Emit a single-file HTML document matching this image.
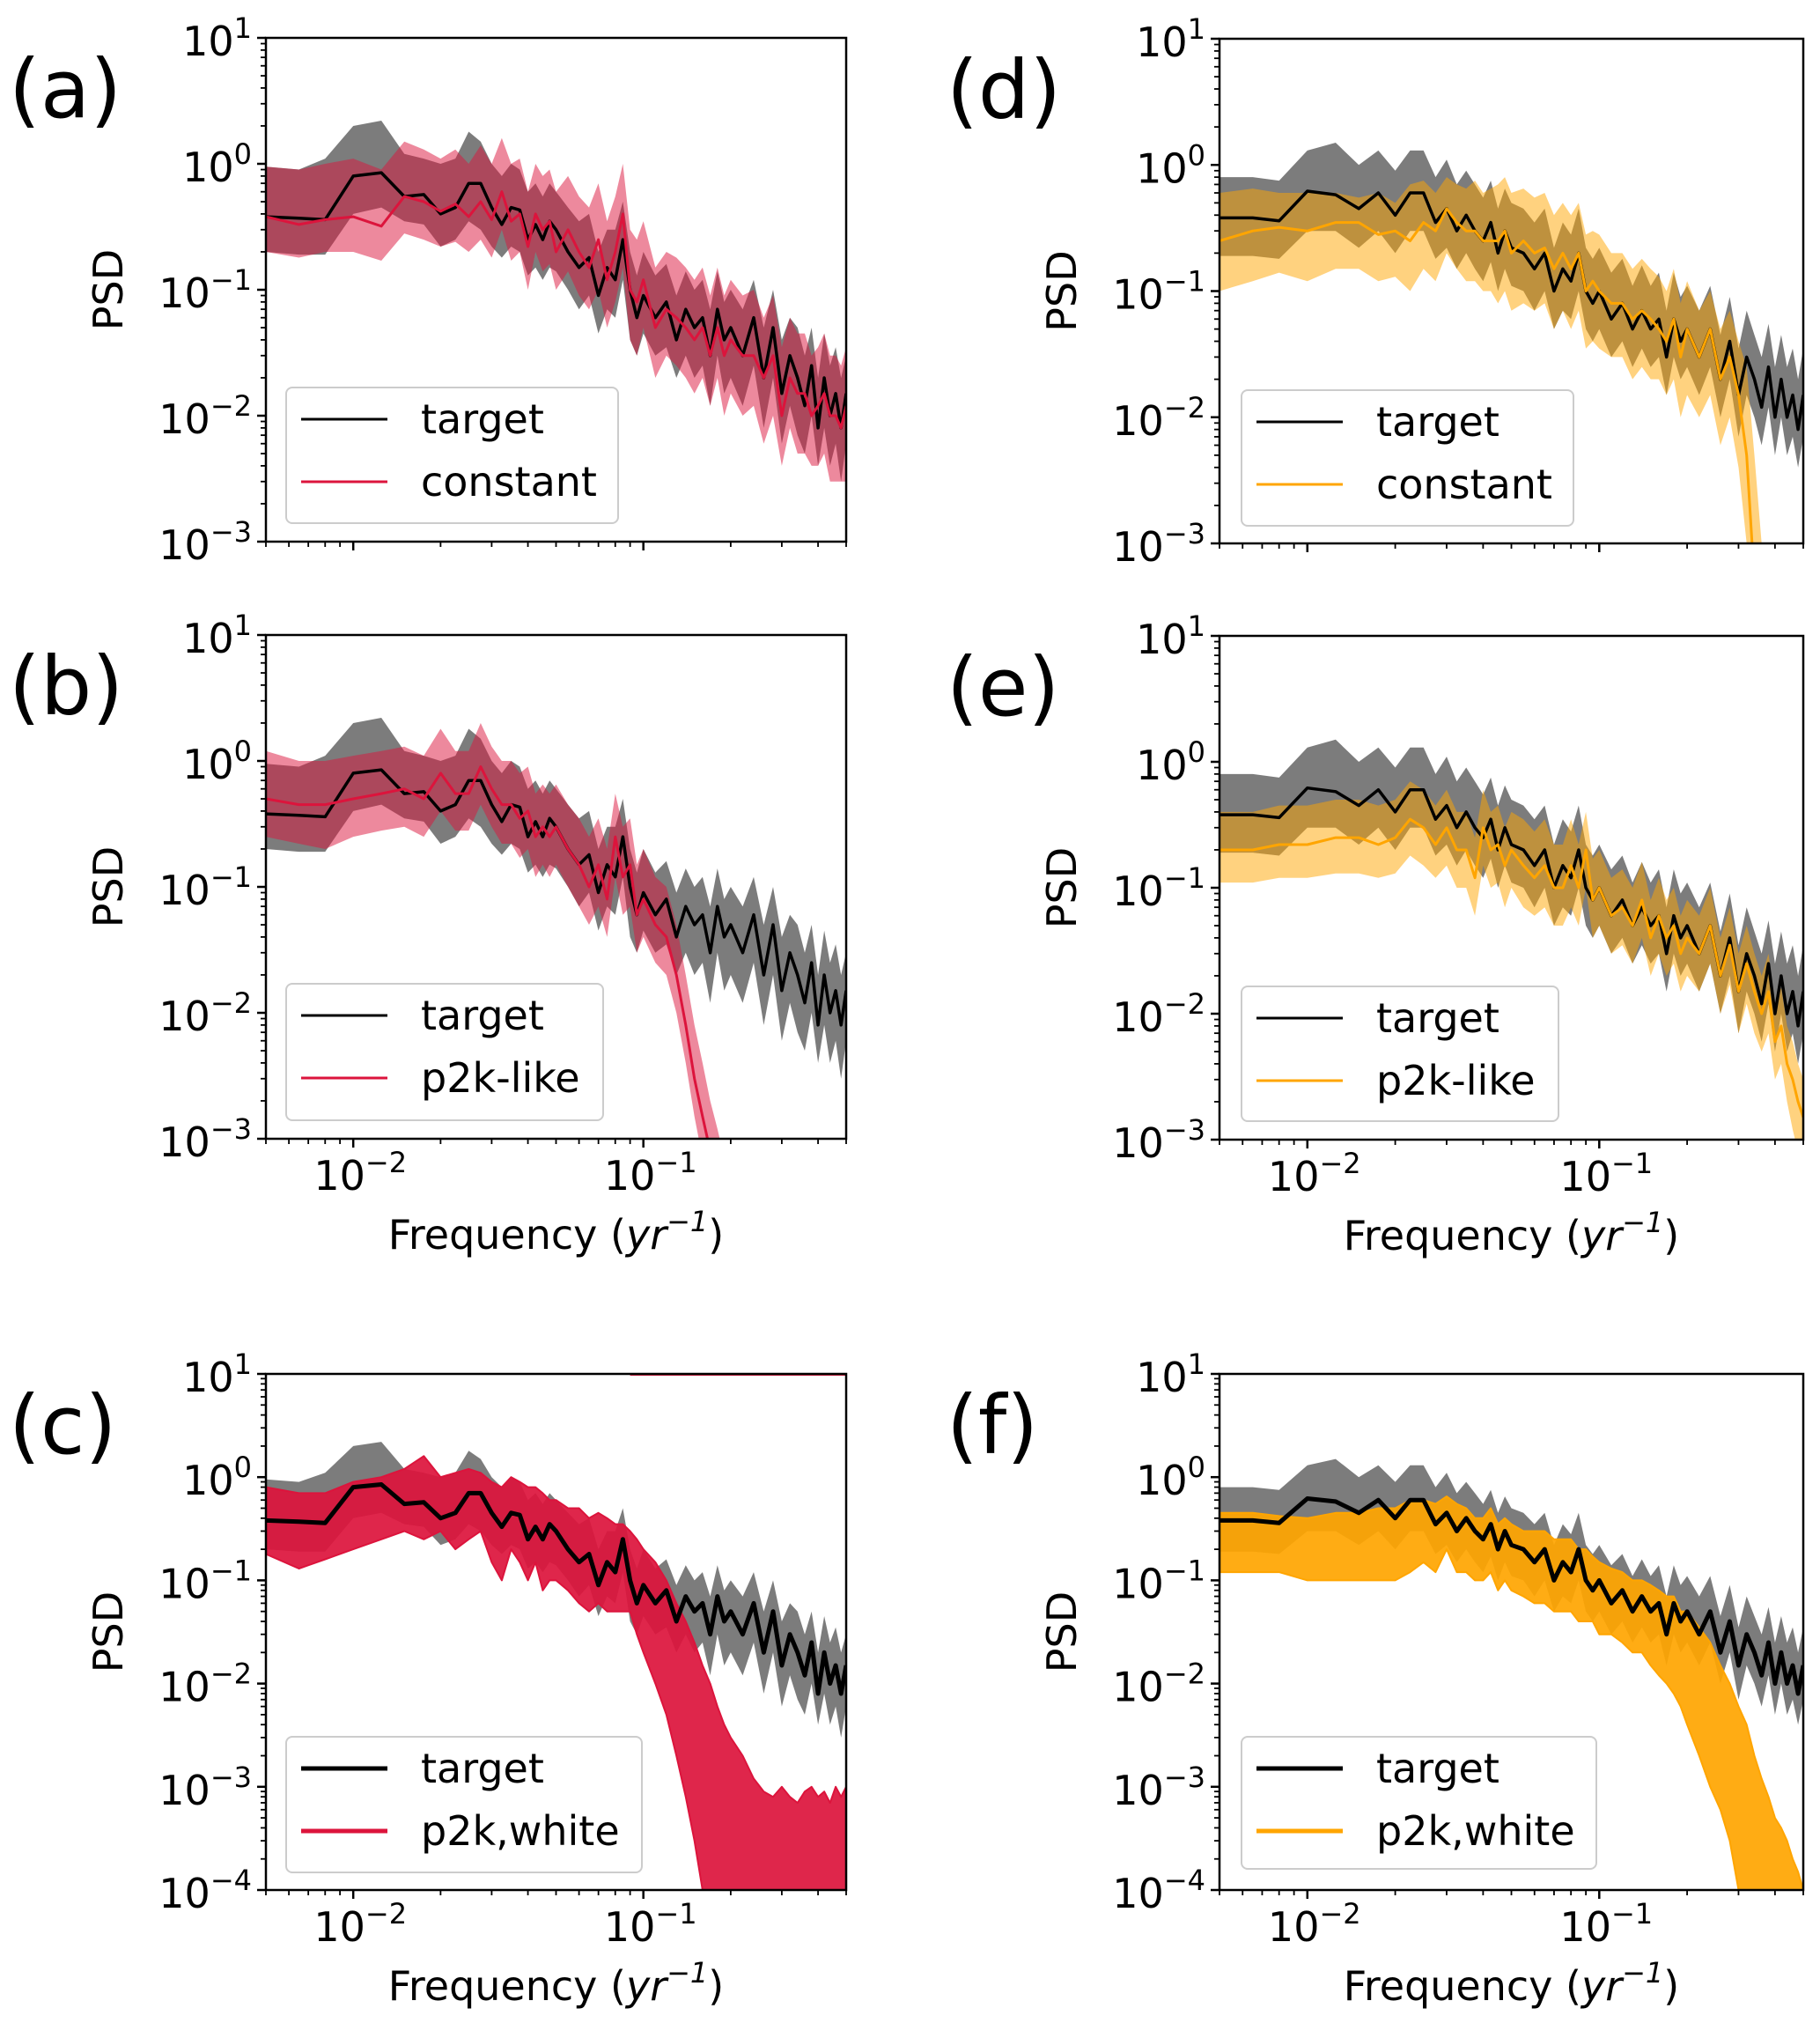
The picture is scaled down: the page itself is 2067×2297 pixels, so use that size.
<!DOCTYPE html>
<html><head><meta charset="utf-8"><style>
html,body{margin:0;padding:0;background:#fff}
svg{display:block;font-family:"DejaVu Sans","Liberation Sans",sans-serif}
</style></head><body>
<svg id="fig" width="2067" height="2297" viewBox="0 0 2067 2297" xmlns="http://www.w3.org/2000/svg"></svg>
<script>
const FREQ=[0.005,0.0065,0.008,0.01,0.0125,0.015,0.0175,0.02,0.0225,0.025,0.0275,0.03,0.0325,0.035,0.0375,0.04,0.0425,0.045,0.0475,0.05,0.055,0.06,0.065,0.07,0.075,0.08,0.085,0.09,0.095,0.1,0.11,0.12,0.13,0.14,0.15,0.16,0.17,0.18,0.19,0.2,0.22,0.24,0.26,0.28,0.3,0.32,0.34,0.36,0.38,0.4,0.42,0.44,0.46,0.48,0.5];
const T=[0.38,0.37,0.36,0.8,0.85,0.55,0.57,0.4,0.45,0.7,0.7,0.45,0.33,0.45,0.43,0.25,0.33,0.25,0.35,0.3,0.2,0.15,0.18,0.09,0.15,0.12,0.25,0.1,0.06,0.09,0.06,0.08,0.04,0.07,0.05,0.06,0.03,0.07,0.04,0.05,0.03,0.06,0.02,0.05,0.015,0.03,0.02,0.012,0.025,0.008,0.02,0.01,0.015,0.008,0.015];
const TLO=[0.2,0.19,0.19,0.4,0.45,0.35,0.33,0.22,0.25,0.35,0.3,0.22,0.18,0.22,0.2,0.13,0.15,0.12,0.15,0.14,0.1,0.07,0.09,0.045,0.07,0.06,0.12,0.04,0.03,0.045,0.03,0.035,0.02,0.03,0.02,0.025,0.012,0.03,0.015,0.02,0.012,0.025,0.008,0.02,0.006,0.012,0.007,0.005,0.01,0.004,0.008,0.004,0.006,0.003,0.006];
const THI=[0.95,0.9,1.1,2.0,2.2,1.2,1.1,1.0,1.1,1.8,1.5,1.0,0.8,1.0,0.9,0.6,0.7,0.55,0.7,0.6,0.45,0.35,0.4,0.2,0.3,0.3,0.5,0.2,0.13,0.2,0.13,0.16,0.09,0.14,0.1,0.12,0.07,0.14,0.08,0.1,0.07,0.12,0.05,0.1,0.04,0.06,0.05,0.03,0.05,0.02,0.045,0.025,0.035,0.02,0.03];
const A=[0.38,0.33,0.36,0.38,0.32,0.55,0.5,0.42,0.48,0.38,0.5,0.36,0.6,0.35,0.4,0.22,0.4,0.3,0.35,0.2,0.3,0.2,0.15,0.25,0.12,0.2,0.4,0.1,0.08,0.12,0.05,0.07,0.06,0.05,0.04,0.05,0.03,0.05,0.03,0.04,0.03,0.03,0.02,0.03,0.01,0.02,0.015,0.015,0.01,0.012,0.015,0.01,0.01,0.008,0.012];
const ALO=[0.2,0.18,0.2,0.2,0.17,0.28,0.25,0.22,0.24,0.2,0.25,0.18,0.3,0.17,0.2,0.1,0.2,0.14,0.16,0.1,0.14,0.09,0.07,0.1,0.05,0.08,0.15,0.04,0.03,0.05,0.02,0.03,0.025,0.02,0.015,0.02,0.012,0.02,0.01,0.015,0.01,0.012,0.006,0.01,0.004,0.008,0.005,0.005,0.004,0.004,0.005,0.003,0.003,0.003,0.003];
const AHI=[0.95,0.9,1.0,1.1,0.9,1.5,1.3,1.1,1.3,1.0,1.4,1.0,1.6,1.0,1.1,0.6,1.0,0.8,0.9,0.6,0.8,0.55,0.45,0.7,0.35,0.55,1.0,0.3,0.25,0.35,0.15,0.2,0.18,0.15,0.12,0.15,0.09,0.15,0.09,0.12,0.09,0.1,0.06,0.09,0.035,0.06,0.045,0.045,0.03,0.035,0.045,0.03,0.03,0.025,0.035];
const B=[0.5,0.45,0.45,0.5,0.55,0.6,0.5,0.8,0.55,0.55,0.9,0.6,0.45,0.45,0.35,0.4,0.25,0.3,0.25,0.3,0.2,0.15,0.1,0.15,0.08,0.25,0.12,0.15,0.06,0.08,0.05,0.04,0.02,0.008,0.003,0.0015,0.0008,0.0005,0.0003,0.0002,1e-4,1e-4,1e-4,1e-4,1e-4,1e-4,1e-4,1e-4,1e-4,1e-4,1e-4,1e-4,1e-4,1e-4,1e-4];
const BLO=[0.25,0.22,0.2,0.25,0.28,0.3,0.25,0.4,0.28,0.28,0.45,0.3,0.22,0.22,0.17,0.2,0.12,0.15,0.12,0.15,0.1,0.07,0.05,0.07,0.04,0.12,0.06,0.07,0.03,0.04,0.025,0.02,0.01,0.004,0.0015,7e-4,4e-4,2e-4,1e-4,1e-4,1e-4,1e-4,1e-4,1e-4,1e-4,1e-4,1e-4,1e-4,1e-4,1e-4,1e-4,1e-4,1e-4,1e-4,1e-4];
const BHI=[1.2,1.0,1.0,1.1,1.2,1.3,1.1,1.8,1.2,1.2,2.0,1.3,1.0,1.0,0.8,0.9,0.55,0.65,0.55,0.65,0.45,0.35,0.25,0.35,0.2,0.55,0.3,0.35,0.15,0.2,0.12,0.1,0.05,0.02,0.008,0.004,0.002,0.0012,7e-4,4e-4,2e-4,1e-4,1e-4,1e-4,1e-4,1e-4,1e-4,1e-4,1e-4,1e-4,1e-4,1e-4,1e-4,1e-4,1e-4];
const CLO=[0.18,0.13,0.16,0.2,0.25,0.3,0.25,0.3,0.2,0.25,0.3,0.15,0.1,0.2,0.15,0.1,0.15,0.08,0.1,0.1,0.08,0.06,0.05,0.06,0.05,0.05,0.05,0.05,0.03,0.02,0.01,0.005,0.002,8e-4,3e-4,1e-4,5e-5,5e-5,5e-5,5e-5,5e-5,5e-5,5e-5,5e-5,5e-5,5e-5,5e-5,5e-5,5e-5,5e-5,5e-5,5e-5,5e-5,5e-5,5e-5];
const CHI=[0.8,0.7,0.7,0.9,1.0,1.2,1.6,1.0,1.1,1.2,1.1,0.9,0.8,1.0,0.9,0.8,0.8,0.7,0.6,0.6,0.5,0.5,0.4,0.45,0.4,0.35,0.35,0.3,0.25,0.2,0.15,0.1,0.06,0.04,0.025,0.015,0.01,0.006,0.004,0.003,0.002,0.0012,9e-4,8e-4,1e-3,8e-4,7e-4,9e-4,1e-3,8e-4,9e-4,7e-4,1e-3,8e-4,1e-3];
const CTOP_F=[0.09,0.5];
const CTOP_V=[9.8,9.8];
const TR=[0.38,0.38,0.36,0.62,0.58,0.45,0.6,0.4,0.6,0.6,0.35,0.45,0.3,0.4,0.3,0.25,0.35,0.2,0.3,0.22,0.2,0.15,0.2,0.1,0.15,0.12,0.2,0.1,0.08,0.1,0.06,0.08,0.05,0.07,0.05,0.06,0.03,0.06,0.04,0.05,0.03,0.05,0.02,0.04,0.015,0.03,0.02,0.012,0.025,0.01,0.02,0.01,0.015,0.008,0.015];
const TRLO=[0.19,0.19,0.18,0.3,0.3,0.22,0.3,0.2,0.3,0.3,0.18,0.22,0.15,0.2,0.15,0.12,0.17,0.1,0.15,0.11,0.1,0.07,0.1,0.05,0.07,0.06,0.1,0.05,0.04,0.05,0.03,0.04,0.025,0.035,0.025,0.03,0.015,0.03,0.02,0.025,0.015,0.025,0.01,0.02,0.007,0.015,0.01,0.006,0.012,0.005,0.01,0.005,0.007,0.004,0.007];
const TRHI=[0.8,0.8,0.75,1.3,1.5,1.0,1.3,0.9,1.3,1.3,0.8,1.1,0.7,0.9,0.7,0.55,0.75,0.45,0.65,0.5,0.45,0.35,0.45,0.22,0.35,0.28,0.45,0.22,0.18,0.22,0.14,0.18,0.11,0.16,0.11,0.14,0.07,0.14,0.09,0.11,0.07,0.11,0.045,0.09,0.035,0.07,0.045,0.03,0.055,0.025,0.045,0.025,0.035,0.02,0.035];
const D=[0.25,0.3,0.32,0.3,0.35,0.35,0.28,0.3,0.25,0.35,0.3,0.45,0.35,0.3,0.3,0.25,0.25,0.25,0.3,0.2,0.25,0.2,0.22,0.15,0.2,0.15,0.2,0.1,0.12,0.1,0.08,0.08,0.06,0.07,0.06,0.05,0.04,0.06,0.03,0.05,0.03,0.05,0.02,0.03,0.015,0.005,5e-4,1e-4,1e-4,1e-4,1e-4,1e-4,1e-4,1e-4,1e-4];
const DLO=[0.1,0.12,0.14,0.12,0.15,0.15,0.12,0.13,0.1,0.15,0.12,0.2,0.15,0.12,0.12,0.1,0.1,0.08,0.1,0.07,0.08,0.07,0.08,0.05,0.07,0.05,0.07,0.035,0.04,0.035,0.03,0.03,0.02,0.025,0.02,0.02,0.015,0.02,0.01,0.015,0.01,0.015,0.006,0.01,0.004,0.001,1e-4,1e-4,1e-4,1e-4,1e-4,1e-4,1e-4,1e-4,1e-4];
const DHI=[0.6,0.65,0.6,0.6,0.6,0.55,0.6,0.5,0.7,0.75,0.6,0.8,0.7,0.65,0.75,0.6,0.65,0.7,0.8,0.6,0.65,0.55,0.6,0.4,0.5,0.4,0.5,0.28,0.3,0.28,0.2,0.2,0.15,0.18,0.15,0.13,0.1,0.15,0.08,0.12,0.07,0.1,0.05,0.07,0.04,0.025,0.005,0.001,3e-4,1e-4,1e-4,1e-4,1e-4,1e-4,1e-4];
const E=[0.2,0.2,0.22,0.22,0.25,0.25,0.22,0.25,0.35,0.3,0.22,0.3,0.2,0.2,0.12,0.3,0.2,0.22,0.15,0.2,0.15,0.12,0.15,0.1,0.1,0.15,0.1,0.2,0.08,0.1,0.06,0.07,0.05,0.08,0.04,0.06,0.04,0.05,0.03,0.04,0.03,0.05,0.02,0.035,0.015,0.025,0.015,0.01,0.015,0.006,0.008,0.004,0.003,0.002,0.0015];
const ELO=[0.11,0.11,0.12,0.12,0.13,0.13,0.12,0.13,0.18,0.15,0.12,0.15,0.1,0.1,0.06,0.15,0.1,0.11,0.07,0.1,0.07,0.06,0.07,0.05,0.05,0.07,0.05,0.1,0.04,0.05,0.03,0.035,0.025,0.04,0.02,0.03,0.02,0.025,0.015,0.02,0.015,0.025,0.01,0.017,0.007,0.012,0.007,0.005,0.007,0.003,0.004,0.002,0.0012,8e-4,6e-4];
const EHI=[0.4,0.4,0.45,0.45,0.5,0.5,0.45,0.5,0.7,0.6,0.45,0.6,0.4,0.4,0.25,0.6,0.4,0.45,0.3,0.4,0.35,0.28,0.35,0.22,0.22,0.35,0.22,0.4,0.17,0.2,0.12,0.14,0.1,0.16,0.08,0.12,0.08,0.1,0.06,0.08,0.06,0.1,0.04,0.07,0.03,0.05,0.03,0.02,0.03,0.012,0.016,0.008,0.006,0.004,0.003];
const GLO=[0.12,0.12,0.12,0.1,0.1,0.1,0.1,0.1,0.12,0.15,0.12,0.2,0.12,0.12,0.1,0.1,0.12,0.08,0.1,0.08,0.07,0.06,0.06,0.05,0.05,0.05,0.04,0.04,0.04,0.03,0.03,0.025,0.02,0.02,0.015,0.012,0.01,0.008,0.006,0.004,0.002,0.001,6e-4,3e-4,1e-4,5e-5,5e-5,5e-5,5e-5,5e-5,5e-5,5e-5,5e-5,5e-5,5e-5];
const GHI=[0.45,0.45,0.42,0.4,0.45,0.45,0.5,0.5,0.6,0.6,0.55,0.65,0.55,0.5,0.4,0.4,0.5,0.35,0.4,0.35,0.3,0.3,0.3,0.25,0.25,0.25,0.2,0.2,0.17,0.15,0.13,0.12,0.1,0.1,0.09,0.08,0.07,0.07,0.05,0.05,0.035,0.025,0.015,0.01,0.006,0.004,0.002,0.0012,8e-4,5e-4,4e-4,3e-4,2e-4,1.5e-4,1e-4];
const Y_TICK_EXP_TOP=[1,0,-1,-2,-3];
const Y_TICK_EXP_BOT=[1,0,-1,-2,-3,-4];
const X_TICK_EXP=[-2,-1];

const NS="http://www.w3.org/2000/svg";
const svg=document.getElementById('fig');
function mk(tag,attrs,parent){const e=document.createElementNS(NS,tag);for(const k in attrs)e.setAttribute(k,attrs[k]);(parent||svg).appendChild(e);return e;}
const RED="#DC143C", ORG="#FFA500";

function panel(cfg){
  const g=mk('g',{});
  
  
  const p=cfg;
  const xl=f=>p.x0+(Math.log10(f)-Math.log10(0.005))/2*(p.x1-p.x0);
  const yl=v=>p.y0+(p.ymaxE-Math.log10(Math.max(v,1e-7)))/(p.ymaxE-p.yminE)*(p.y1-p.y0);
  const cid='clip-'+p.id;
  const cp=mk('clipPath',{id:cid},g);
  mk('rect',{x:p.x0,y:p.y0,width:p.x1-p.x0,height:p.y1-p.y0},cp);
  const plot=mk('g',{'clip-path':'url(#'+cid+')'},g);
  function band(lo,hi,color,op,name){
    let pts=FREQ.map((f,i)=>xl(f).toFixed(1)+','+yl(hi[i]).toFixed(1));
    for(let i=FREQ.length-1;i>=0;i--)pts.push(xl(FREQ[i]).toFixed(1)+','+yl(lo[i]).toFixed(1));
    const e=mk('polygon',{points:pts.join(' '),fill:color,'fill-opacity':op,stroke:'none'},plot);
    
    
  }
  function line(vals,color,w,name,xs){
    const xsA=xs||FREQ;
    const pts=xsA.map((f,i)=>xl(f).toFixed(1)+','+yl(vals[i]).toFixed(1)).join(' ');
    const e=mk('polyline',{points:pts,fill:'none',stroke:color,'stroke-width':w,'stroke-linejoin':'round'},plot);
    
    
  }
  const tgt=p.right?[TR,TRLO,TRHI]:[T,TLO,THI];
  const col=p.right?ORG:RED;
  band(tgt[1],tgt[2],'#6e6e6e',0.9,'target-band');
  if(p.kind==='band'){
    band(p.lo,p.hi,col,0.5,'model-band');
    line(tgt[0],'#000',3.5,'target-line');
    line(p.med,col,3,'model-line');
  } else {
    band(p.lo,p.hi,col,0.92,'ensemble-band');
    line(p.lo,col,2,'ensemble-lower');
    line(p.hi,col,2,'ensemble-upper');
    line(tgt[0],'#000',5,'target-line');
    if(p.top)line(CTOP_V,col,2,'ensemble-outlier',CTOP_F);
  }
  const fr=mk('rect',{x:p.x0,y:p.y0,width:p.x1-p.x0,height:p.y1-p.y0,fill:'none',stroke:'#000','stroke-width':2.5},g);
  
  
  for(let e=p.yminE;e<=p.ymaxE;e++){
    const y=yl(Math.pow(10,e));
    mk('line',{x1:p.x0-10,x2:p.x0,y1:y,y2:y,stroke:'#000','stroke-width':2.5},g);
    if(e<p.ymaxE)for(let m=2;m<10;m++){const ym=yl(m*Math.pow(10,e));mk('line',{x1:p.x0-6,x2:p.x0,y1:ym,y2:ym,stroke:'#000','stroke-width':1.8},g);}
  }
  const yt=mk('g',{},g);
  
  
  p.yticks.forEach(e=>{
    const y=yl(Math.pow(10,e));
    const t=mk('text',{x:p.x0-16,y:y+20,'text-anchor':'end','font-size':46,fill:'#000'},yt);
    t.appendChild(document.createTextNode('10'));
    const s=mk('tspan',{dy:-20,'font-size':32},t);
    s.textContent=(e<0?'\u2212':'')+Math.abs(e);
  });
  for(let e=-3;e<=-1;e++)for(let m=1;m<10;m++){
    const f=m*Math.pow(10,e); if(f<0.005-1e-9||f>0.5+1e-9)continue;
    const x=xl(f),maj=(m===1);
    mk('line',{x1:x,x2:x,y1:p.y1,y2:p.y1+(maj?10:6),stroke:'#000','stroke-width':maj?2.5:1.8},g);
  }
  if(p.xlabels){
    const xt=mk('g',{},g);
    
    
    X_TICK_EXP.forEach(e=>{
      const x=xl(Math.pow(10,e));
      const t=mk('text',{x:x+8,y:p.y1+58,'text-anchor':'middle','font-size':46,fill:'#000'},xt);
      t.appendChild(document.createTextNode('10'));
      const s=mk('tspan',{dy:-20,'font-size':32},t);
      s.textContent='\u2212'+Math.abs(e);
    });
    const xlab=mk('text',{x:(p.x0+p.x1)/2,y:p.y1+125,'text-anchor':'middle','font-size':46,fill:'#000'},g);
    
    
    xlab.appendChild(document.createTextNode('Frequency ('));
    const it=mk('tspan',{'font-style':'italic'},xlab); it.textContent='yr';
    const sp=mk('tspan',{dy:-20,'font-size':32,'font-style':'italic'},xlab); sp.textContent='\u22121';
    const cl=mk('tspan',{dy:20},xlab); cl.textContent=')';
  }
  const yc=(p.y0+p.y1)/2, yx=p.x0-163;
  const ylab=mk('text',{x:yx,y:yc,'text-anchor':'middle','font-size':46,fill:'#000',transform:'rotate(-90 '+yx+' '+yc+')'},g);
  
  
  ylab.textContent='PSD';
  const pl=mk('text',{x:p.x0-(p.right?310:292),y:p.y0+90,'font-size':92,fill:'#000'},g);
  
  
  pl.textContent='('+p.id+')';
  const lg=mk('g',{},g);
  
  
  const L=p.leg;
  mk('rect',{x:L[0],y:L[1],width:L[2],height:L[3],rx:7,fill:'#fff','fill-opacity':0.85,stroke:'#ccc','stroke-width':2},lg);
  const lw=p.kind==='band'?3:5;
  [[ '#000','target'],[col,p.name]].forEach((it,k)=>{
    const y=L[1]+36+k*71;
    const ent=mk('g',{},lg);
    
    
    mk('line',{x1:L[0]+17,x2:L[0]+115,y1:y,y2:y,stroke:it[0],'stroke-width':lw},ent);
    const t=mk('text',{x:L[0]+153,y:y+16,'font-size':46,fill:'#000'},ent);
    t.textContent=it[1];
  });
}
const LX=[302,961], RX=[1385,2048];
panel({id:'a',x0:LX[0],x1:LX[1],y0:43,y1:615,ymaxE:1,yminE:-3,yticks:Y_TICK_EXP_TOP,kind:'band',med:A,lo:ALO,hi:AHI,name:'constant',leg:[325,440,377,154],xlabels:false});
panel({id:'b',x0:LX[0],x1:LX[1],y0:721,y1:1293,ymaxE:1,yminE:-3,yticks:Y_TICK_EXP_TOP,kind:'band',med:B,lo:BLO,hi:BHI,name:'p2k-like',leg:[325,1117,360,155],xlabels:true});
panel({id:'c',x0:LX[0],x1:LX[1],y0:1560,y1:2146,ymaxE:1,yminE:-4,yticks:Y_TICK_EXP_BOT,kind:'ens',lo:CLO,hi:CHI,top:true,name:'p2k,white',leg:[325,1972,404,154],xlabels:true});
panel({id:'d',right:true,x0:RX[0],x1:RX[1],y0:44,y1:617,ymaxE:1,yminE:-3,yticks:Y_TICK_EXP_TOP,kind:'band',med:D,lo:DLO,hi:DHI,name:'constant',leg:[1410,443,377,154],xlabels:false});
panel({id:'e',right:true,x0:RX[0],x1:RX[1],y0:722,y1:1294,ymaxE:1,yminE:-3,yticks:Y_TICK_EXP_TOP,kind:'band',med:E,lo:ELO,hi:EHI,name:'p2k-like',leg:[1410,1120,360,153],xlabels:true});
panel({id:'f',right:true,x0:RX[0],x1:RX[1],y0:1560,y1:2146,ymaxE:1,yminE:-4,yticks:Y_TICK_EXP_BOT,kind:'ens',lo:GLO,hi:GHI,top:false,name:'p2k,white',leg:[1410,1972,403,150],xlabels:true});
</script>
</body></html>
